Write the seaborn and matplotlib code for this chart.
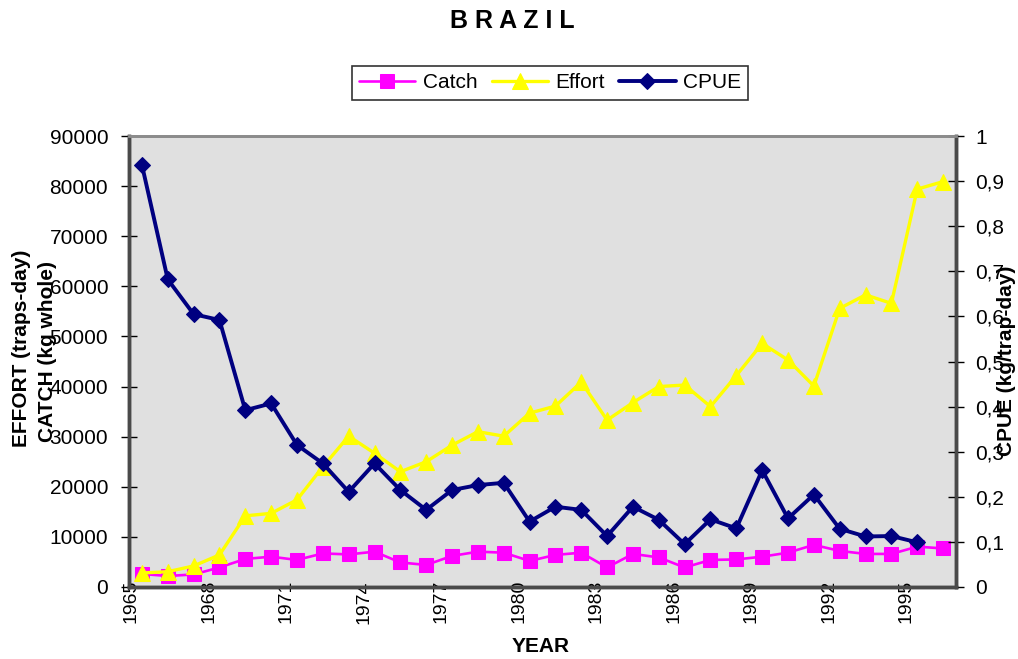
import numpy as np
import matplotlib
matplotlib.use("Agg")
import matplotlib.pyplot as plt
import matplotlib.transforms as mtransforms
from matplotlib.ticker import FixedLocator, NullFormatter, FuncFormatter
import seaborn as sns

# Brazil fishery series, 1965-1996
years = list(range(1965, 1997))

catch = [2600, 2200, 2500, 3900, 5600, 6050, 5400, 6700, 6500, 7050, 4900, 4400,
         6200, 7050, 6850, 5200, 6400, 6850, 3900, 6600, 5900, 3900, 5400, 5500,
         6050, 6850, 8400, 7200, 6600, 6600, 8050, 7700]

effort = [2800, 3050, 4200, 6400, 14200, 14700, 17400, 24000, 30100, 26700, 23000, 25000,
          28300, 31000, 30100, 34700, 36100, 40900, 33300, 36800, 40000, 40300, 36000, 42200,
          48600, 45300, 40100, 55600, 58300, 56600, 79400, 80900]

# CPUE not reported for the final year
cpue_years = years[:-1]
cpue = [0.936, 0.682, 0.605, 0.592, 0.392, 0.407, 0.315, 0.274, 0.211, 0.274, 0.215, 0.171,
        0.215, 0.226, 0.231, 0.145, 0.178, 0.171, 0.113, 0.178, 0.149, 0.095, 0.150, 0.130,
        0.259, 0.152, 0.205, 0.129, 0.112, 0.113, 0.099]

left_ticks = [0, 10000, 20000, 30000, 40000, 50000, 60000, 70000, 80000, 90000]
right_ticks = [0, 0.1, 0.2, 0.3, 0.4, 0.5, 0.6, 0.7, 0.8, 0.9, 1.0]
year_labels = list(range(1965, 1996, 3))

sns.set_style("white")
plt.rcParams["font.family"] = ["Liberation Sans", "DejaVu Sans"]
for key in ("text.color", "axes.labelcolor", "xtick.color", "ytick.color"):
    plt.rcParams[key] = "black"

W, H = 1018, 659
fig = plt.figure(figsize=(W / 100, H / 100), dpi=100)
ax = fig.add_axes([129 / W, 1 - 587 / H, (956 - 129) / W, (587 - 136) / H])
ax.set_facecolor("#E0E0E0")

MAGENTA, YELLOW, NAVY = "#FF00FF", "#FFFF00", "#000080"

sns.lineplot(x=years, y=catch, ax=ax, color=MAGENTA, marker="s", markersize=10,
             markeredgecolor=MAGENTA, linewidth=1.9, label="Catch", legend=False)
sns.lineplot(x=years, y=effort, ax=ax, color=YELLOW, marker="^", markersize=11.5,
             markeredgecolor=YELLOW, linewidth=2.4, label="Effort", legend=False)

ax2 = ax.twinx()
sns.lineplot(x=cpue_years, y=cpue, ax=ax2, color=NAVY, marker="D", markersize=8,
             markeredgecolor=NAVY, linewidth=2.8, label="CPUE", legend=False)

# Category axis: tick marks on every year boundary
ax.set_xlim(years[0] - 0.5, years[-1] + 0.5)
ax.xaxis.set_major_locator(FixedLocator([y - 0.5 for y in years] + [years[-1] + 0.5]))
ax.xaxis.set_major_formatter(NullFormatter())
ax.tick_params(axis="x", which="both", direction="inout", length=11, width=1,
               color="black")

# Year captions every third year, reading upward, starting just above the axis line
year_tf = (mtransforms.blended_transform_factory(ax.transData, ax.transAxes)
           + mtransforms.ScaledTranslation(0.02, 0.07, fig.dpi_scale_trans))
for y in year_labels:
    ax.text(y - 0.5, 0, str(y), transform=year_tf, rotation=90, ha="center",
            va="top", fontsize=14, clip_on=False, zorder=10)

ax.set_ylim(0, 90000)
ax.set_yticks(left_ticks)
ax.yaxis.set_major_formatter(FuncFormatter(lambda v, p: f"{int(v)}"))
ax.tick_params(axis="y", direction="inout", length=12, width=1, color="black",
               labelsize=15, pad=9)

ax2.set_ylim(0, 1)
ax2.set_yticks(right_ticks)
ax2.yaxis.set_major_formatter(
    FuncFormatter(lambda v, p: "0" if v == 0 else ("1" if v == 1 else f"{v:.1f}".replace(".", ","))))
ax2.tick_params(axis="y", direction="inout", length=12, width=1, color="black",
                labelsize=15, pad=8)
ax2.set_ylabel("")

for a in (ax, ax2):
    for side in ("left", "bottom", "right"):
        a.spines[side].set_color("#4A4A4A")
        a.spines[side].set_linewidth(2.5)
    a.spines["top"].set_color("#8C8C8C")
    a.spines["top"].set_linewidth(2)
ax.set_xlabel("")
ax.set_ylabel("")

# Titles and axis captions
fig.text(512 / W, 1 - 21 / H, "B R A Z I L", ha="center", va="center",
         fontsize=18, fontweight="bold")
fig.text(541 / W, 1 - 647 / H, "YEAR", ha="center", va="center",
         fontsize=15, fontweight="bold")
fig.text(22 / W, 1 - 348 / H, "EFFORT (traps-day)", ha="center", va="center",
         rotation=90, fontsize=15, fontweight="bold")
fig.text(48 / W, 1 - 352 / H, "CATCH (kg whole)", ha="center", va="center",
         rotation=90, fontsize=15, fontweight="bold")
fig.text(1006 / W, 1 - 361 / H, "CPUE (kg/trap-day)", ha="center", va="center",
         rotation=90, fontsize=15, fontweight="bold")

handles = ax.get_lines()[:2] + ax2.get_lines()[:1]
leg = fig.legend(handles, ["Catch", "Effort", "CPUE"], loc="center",
                 bbox_to_anchor=(550 / W, 1 - 83 / H), ncol=3, frameon=True,
                 fancybox=False, edgecolor="black", fontsize=15, handlelength=2.7,
                 columnspacing=0.7, handletextpad=0.35, borderpad=0.35,
                 borderaxespad=0, markerscale=1.0)
leg.get_frame().set_linewidth(1.2)

fig.savefig("out.png", dpi=100, facecolor="white")
